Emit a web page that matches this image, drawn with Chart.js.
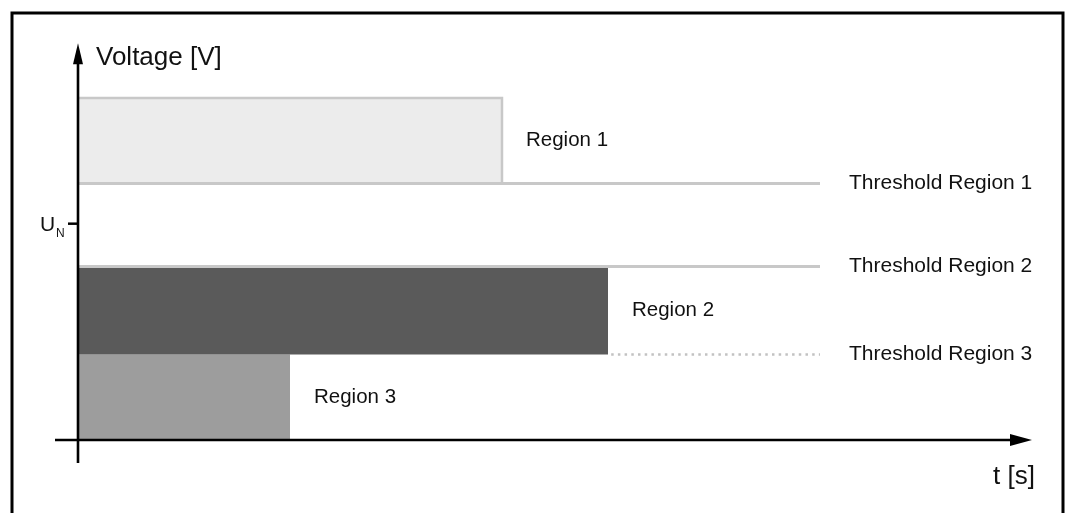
<!DOCTYPE html>
<html>
<head>
<meta charset="utf-8">
<script src="https://cdn.jsdelivr.net/npm/chart.js@4/dist/chart.umd.min.js"></script>
<style>
	body { margin: 0; background: #fff; }
	#wrap { position: relative; width: 1068px; height: 513px; }
</style>
</head>
<body>
<div id="wrap"><canvas id="chart_regions"></canvas></div>
<script>
//regionernas tider (t) och spänningsgränser (V)
var region_names = ["Region 1", "Region 2", "Region 3"];
var region_end_t = [4, 5, 2];
var region_low_v = [3, 1, 0];
var region_high_v = [4, 2.03, 1];
var region_colors = ["#ececec", "#5a5a5a", "#9d9d9d"];

//tröskelvärden
var threshold_names = ["Threshold Region 1", "Threshold Region 2", "Threshold Region 3"];
var threshold_v = [3, 2.03, 1];
var threshold_start_t = [0, 0, 5.03];
var threshold_end_t = 7;

//nominell spänning
var nominal_v = 2.53;
var axis_t_max = 9;
var axis_v_max = 4.64;

/**
 * Ritar ram, axlar med pilar och alla texter
 */
var decorations = {
	id: 'decorations',
	afterDatasetsDraw: function(chart)
	{
		var ctx = chart.ctx;
		var sx = chart.scales.x;
		var sy = chart.scales.y;
		var x0 = sx.getPixelForValue(0);
		var y0 = sy.getPixelForValue(0);

		ctx.save();

		//ram
		ctx.strokeStyle = "#000";
		ctx.lineWidth = 3;
		ctx.beginPath();
		ctx.moveTo(12, 530);
		ctx.lineTo(12, 13);
		ctx.lineTo(1063, 13);
		ctx.lineTo(1063, 530);
		ctx.stroke();

		//axlar
		var xTip = sx.getPixelForValue(axis_t_max);
		var yTip = sy.getPixelForValue(axis_v_max);
		ctx.lineWidth = 2.6;
		ctx.beginPath();
		ctx.moveTo(55, y0);
		ctx.lineTo(xTip - 10, y0);
		ctx.moveTo(x0, 463);
		ctx.lineTo(x0, yTip + 10);
		ctx.stroke();

		ctx.fillStyle = "#000";
		ctx.beginPath();
		ctx.moveTo(xTip, y0);
		ctx.lineTo(xTip - 22, y0 - 6);
		ctx.lineTo(xTip - 22, y0 + 6);
		ctx.closePath();
		ctx.fill();
		ctx.beginPath();
		ctx.moveTo(x0, yTip);
		ctx.lineTo(x0 - 5, yTip + 21);
		ctx.lineTo(x0 + 5, yTip + 21);
		ctx.closePath();
		ctx.fill();

		//U_N-markering
		var yN = sy.getPixelForValue(nominal_v);
		ctx.lineWidth = 2.5;
		ctx.beginPath();
		ctx.moveTo(68, yN);
		ctx.lineTo(x0, yN);
		ctx.stroke();

		ctx.fillStyle = "#111";
		ctx.textBaseline = "alphabetic";
		ctx.textAlign = "left";
		ctx.font = "21px 'Liberation Sans', Arial, sans-serif";
		ctx.fillText("U", 40, yN + 7);
		ctx.font = "12px 'Liberation Sans', Arial, sans-serif";
		ctx.fillText("N", 56, yN + 13);

		//axeltitlar
		ctx.font = "26px 'Liberation Sans', Arial, sans-serif";
		ctx.fillText("Voltage [V]", 96, 65);
		ctx.textAlign = "right";
		ctx.fillText("t [s]", 1035, 484);

		//regiontexter
		ctx.font = "20.5px 'Liberation Sans', Arial, sans-serif";
		ctx.textAlign = "left";
		ctx.textBaseline = "middle";
		for(var i = 0; i < region_names.length; i++)
		{
			var mid = (region_low_v[i] + region_high_v[i]) / 2;
			ctx.fillText(region_names[i], sx.getPixelForValue(region_end_t[i]) + 24, sy.getPixelForValue(mid));
		}

		//tröskeltexter
		ctx.font = "21px 'Liberation Sans', Arial, sans-serif";
		for(var j = 0; j < threshold_names.length; j++)
		{
			ctx.fillText(threshold_names[j], sx.getPixelForValue(threshold_end_t) + 29, sy.getPixelForValue(threshold_v[j]));
		}

		ctx.restore();
	}
};

//dataset för regionerna (fyllda rektanglar)
var datasets = [];
for(var i = 0; i < region_names.length; i++)
{
	datasets.push({
		label: region_names[i],
		data: [
			{x: 0, y: region_high_v[i]},
			{x: region_end_t[i], y: region_high_v[i]},
			{x: region_end_t[i], y: region_low_v[i]}
		],
		fill: {value: region_low_v[i]},
		backgroundColor: region_colors[i],
		borderColor: i == 0 ? "#c8c8c8" : "rgba(0,0,0,0)",
		borderWidth: i == 0 ? 2.5 : 0,
		pointRadius: 0,
		order: 2
	});
}

//dataset för tröskellinjerna
for(var j = 0; j < threshold_names.length; j++)
{
	datasets.push({
		label: threshold_names[j],
		data: [
			{x: threshold_start_t[j], y: threshold_v[j]},
			{x: threshold_end_t, y: threshold_v[j]}
		],
		fill: false,
		borderColor: j == 2 ? "#c2c2c2" : "#c8c8c8",
		borderWidth: j == 2 ? 2.5 : 3,
		borderDash: j == 2 ? [2.5, 4.2] : [],
		pointRadius: 0,
		order: 1
	});
}

var params_regions = {
	type: 'line',
	data: { datasets: datasets },
	options: {
		responsive: true,
		maintainAspectRatio: false,
		animation: false,
		layout: { padding: { left: 25, right: 14.8, top: 29.6, bottom: 21.7 } },
		plugins: {
			legend: { display: false },
			tooltip: { enabled: false }
		},
		scales: {
			x: { type: 'linear', min: -0.5, max: 9.2, display: false },
			y: { type: 'linear', min: -0.6, max: 4.8, display: false }
		}
	},
	plugins: [decorations]
};
new Chart(document.getElementById("chart_regions"), params_regions);
</script>
</body>
</html>
